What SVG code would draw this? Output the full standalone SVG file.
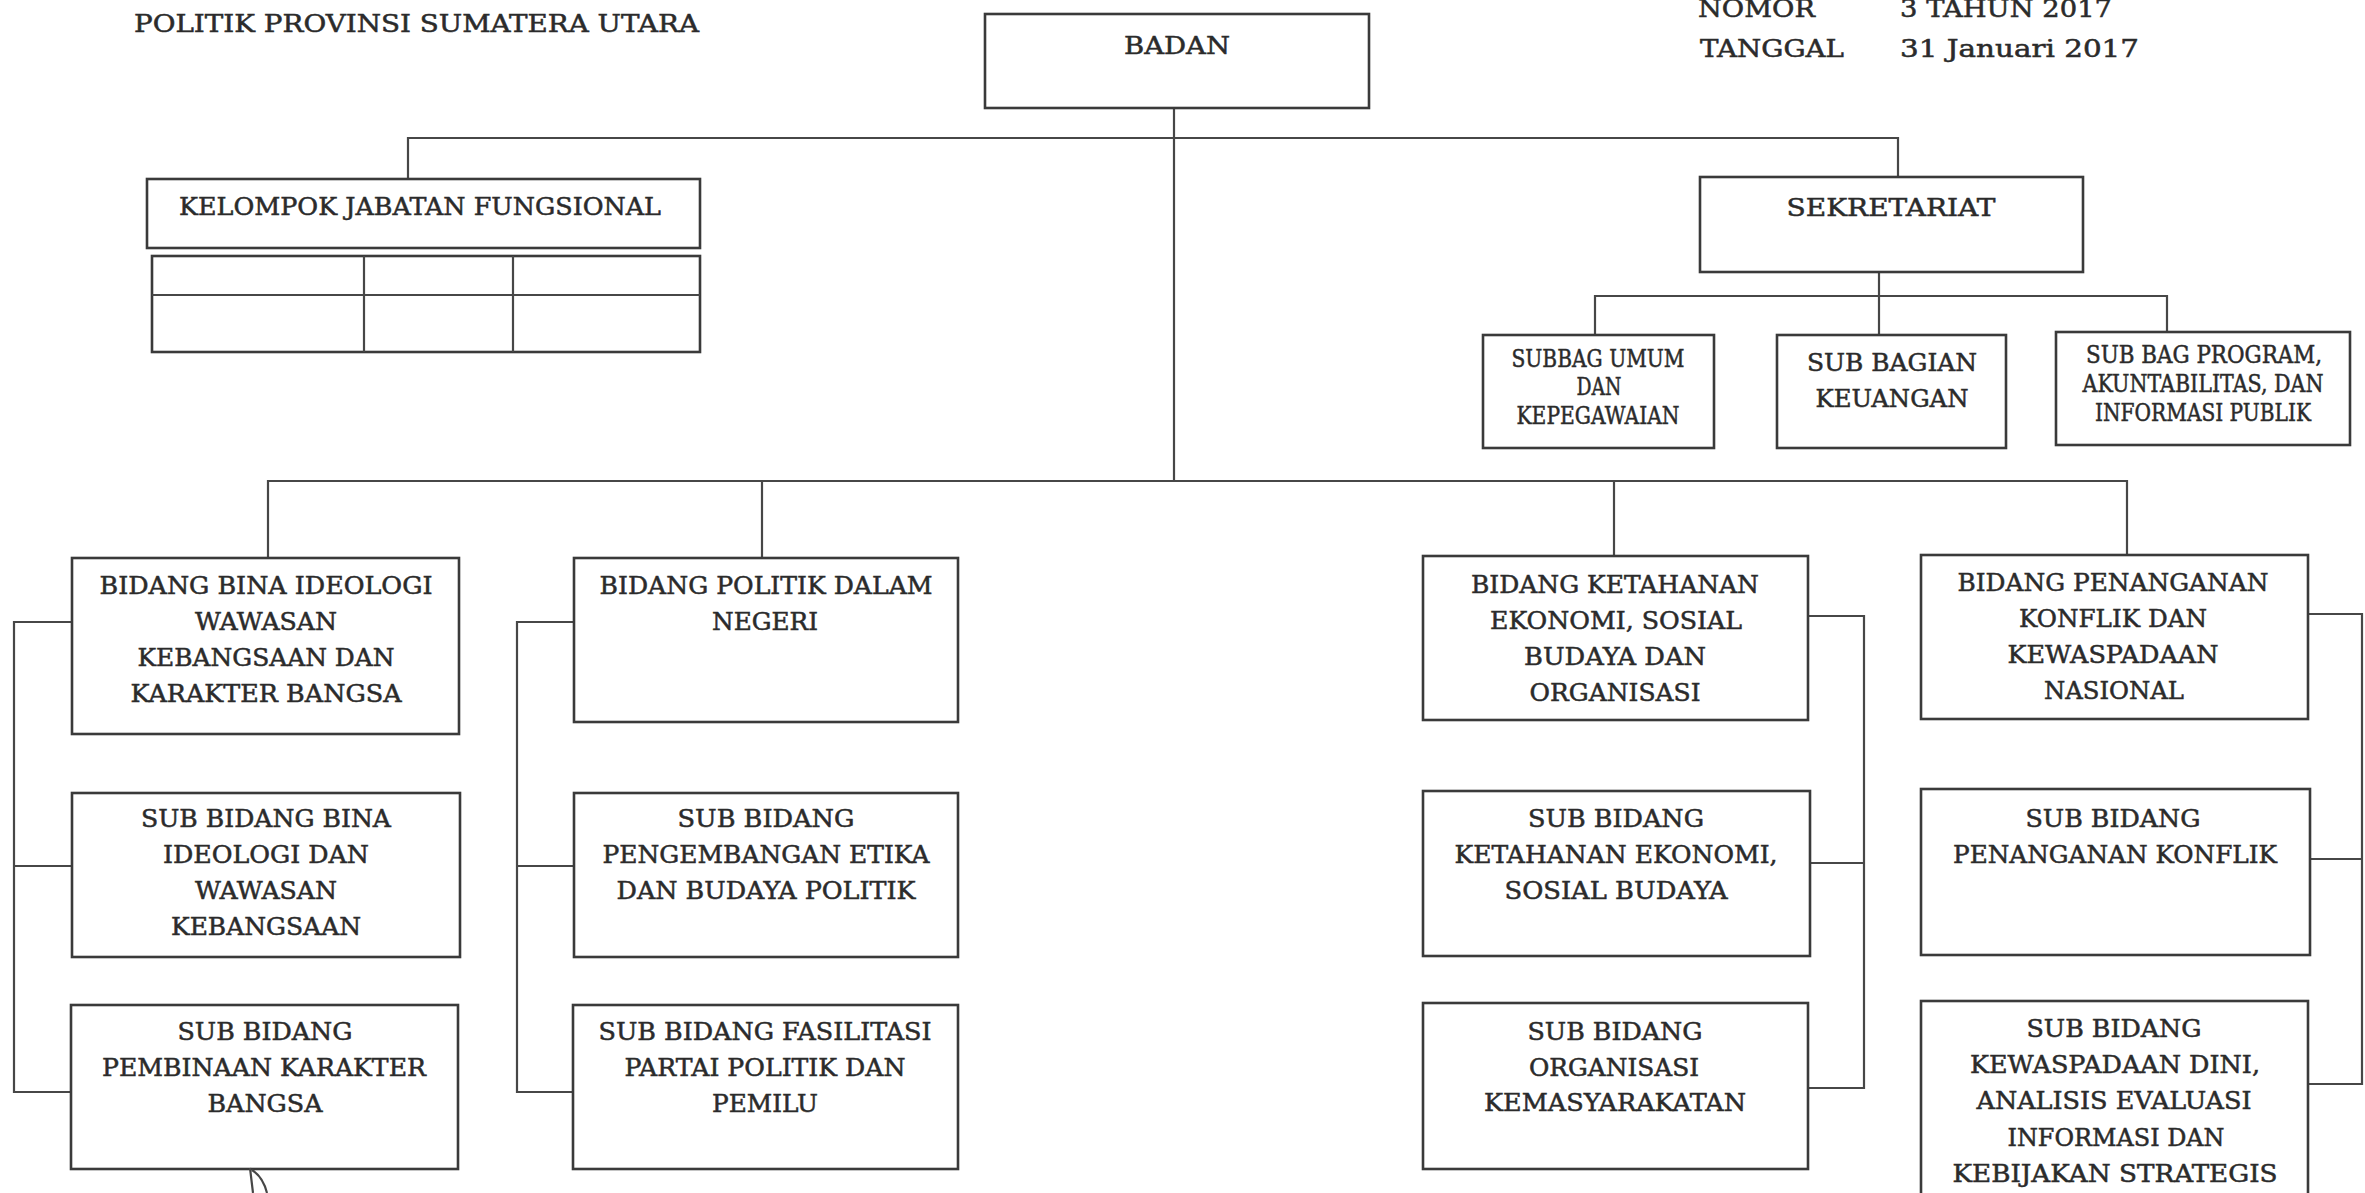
<svg xmlns="http://www.w3.org/2000/svg" width="2365" height="1193" viewBox="0 0 2365 1193">
<style>
.bg{fill:#ffffff}
.box{fill:#ffffff;stroke:#3a3a3a;stroke-width:2.6}
.ln{fill:none;stroke:#474747;stroke-width:2.2}
.t{font-family:"DejaVu Serif","Liberation Serif",serif;fill:#2b2b2b;stroke:#2b2b2b;stroke-width:0.5;text-anchor:middle;font-size:23.5px}
.s{text-anchor:start}
</style>
<rect class="bg" x="0" y="0" width="2365" height="1193"/>

<g id="header">
<text class="t s" x="134" y="32" font-size="30" textLength="565" lengthAdjust="spacingAndGlyphs">POLITIK PROVINSI SUMATERA UTARA</text>
<text class="t s" x="1698" y="17" font-size="29" textLength="117" lengthAdjust="spacingAndGlyphs">NOMOR</text>
<text class="t s" x="1900" y="17" font-size="29" textLength="212" lengthAdjust="spacingAndGlyphs">3 TAHUN 2017</text>
<text class="t s" x="1700" y="57" font-size="29" textLength="144" lengthAdjust="spacingAndGlyphs">TANGGAL</text>
<text class="t s" x="1900" y="57" font-size="29" textLength="239" lengthAdjust="spacingAndGlyphs">31 Januari 2017</text>
</g>

<g id="connectors">
<path class="ln" d="M1174,95 V481"/>
<path class="ln" d="M408,180 V138 H1898 V177"/>
<path class="ln" d="M1879,272 V335"/>
<path class="ln" d="M1595,335 V296 H2167 V332"/>
<path class="ln" d="M268,558 V481 H2127 V555"/>
<path class="ln" d="M762,481 V558"/>
<path class="ln" d="M1614,481 V556"/>
<path class="ln" d="M72,622 H14 V1092 H71"/>
<path class="ln" d="M14,866 H72"/>
<path class="ln" d="M574,622 H517 V1092 H573"/>
<path class="ln" d="M517,866 H574"/>
<path class="ln" d="M1808,616 H1864 V1088 H1808"/>
<path class="ln" d="M1810,863 H1864"/>
<path class="ln" d="M2308,614 H2362 V1084 H2308"/>
<path class="ln" d="M2310,859 H2362"/>
</g>

<g id="badan">
<rect class="box" x="985" y="14" width="384" height="94"/>
<text class="t" x="1177" y="54" font-size="29" textLength="106" lengthAdjust="spacingAndGlyphs">BADAN</text>
</g>

<g id="kelompok-jabatan-fungsional">
<rect class="box" x="147" y="179" width="553" height="69"/>
<text class="t" x="420" y="215" font-size="26" textLength="482" lengthAdjust="spacingAndGlyphs">KELOMPOK JABATAN FUNGSIONAL</text>
</g>

<g id="jabatan-fungsional-grid">
<rect class="box" x="152" y="256" width="548" height="96"/>
<path class="ln" d="M152,295 H700 M364,256 V352 M513,256 V352"/>
</g>

<g id="sekretariat">
<rect class="box" x="1700" y="177" width="383" height="95"/>
<text class="t" x="1891" y="216" font-size="27" textLength="209" lengthAdjust="spacingAndGlyphs">SEKRETARIAT</text>
</g>

<g id="subbag-umum">
<rect class="box" x="1483" y="335" width="231" height="113"/>
<text class="t" x="1598" y="367" font-size="19" textLength="173" lengthAdjust="spacingAndGlyphs">SUBBAG UMUM</text>
<text class="t" x="1599" y="395" font-size="19" textLength="45" lengthAdjust="spacingAndGlyphs">DAN</text>
<text class="t" x="1598" y="424" font-size="19" textLength="163" lengthAdjust="spacingAndGlyphs">KEPEGAWAIAN</text>
</g>

<g id="sub-bagian-keuangan">
<rect class="box" x="1777" y="335" width="229" height="113"/>
<text class="t" x="1892" y="371" font-size="24.5" textLength="170" lengthAdjust="spacingAndGlyphs">SUB BAGIAN</text>
<text class="t" x="1892" y="407" font-size="24.5" textLength="153" lengthAdjust="spacingAndGlyphs">KEUANGAN</text>
</g>

<g id="sub-bag-program">
<rect class="box" x="2056" y="332" width="294" height="113"/>
<text class="t" x="2204" y="363" font-size="19" textLength="236" lengthAdjust="spacingAndGlyphs">SUB BAG PROGRAM,</text>
<text class="t" x="2203" y="392" font-size="19" textLength="241" lengthAdjust="spacingAndGlyphs">AKUNTABILITAS, DAN</text>
<text class="t" x="2203" y="421" font-size="19" textLength="216" lengthAdjust="spacingAndGlyphs">INFORMASI PUBLIK</text>
</g>

<g id="bidang-bina-ideologi">
<rect class="box" x="72" y="558" width="387" height="176"/>
<text class="t" x="266" y="594" textLength="333" lengthAdjust="spacingAndGlyphs">BIDANG BINA IDEOLOGI</text>
<text class="t" x="266" y="630" textLength="142" lengthAdjust="spacingAndGlyphs">WAWASAN</text>
<text class="t" x="266" y="666" textLength="257" lengthAdjust="spacingAndGlyphs">KEBANGSAAN DAN</text>
<text class="t" x="266" y="702" textLength="271" lengthAdjust="spacingAndGlyphs">KARAKTER BANGSA</text>
</g>

<g id="sub-bidang-bina-ideologi">
<rect class="box" x="72" y="793" width="388" height="164"/>
<text class="t" x="266" y="827" textLength="250" lengthAdjust="spacingAndGlyphs">SUB BIDANG BINA</text>
<text class="t" x="266" y="863" textLength="206" lengthAdjust="spacingAndGlyphs">IDEOLOGI DAN</text>
<text class="t" x="266" y="899" textLength="142" lengthAdjust="spacingAndGlyphs">WAWASAN</text>
<text class="t" x="266" y="935" textLength="190" lengthAdjust="spacingAndGlyphs">KEBANGSAAN</text>
</g>

<g id="sub-bidang-pembinaan-karakter">
<rect class="box" x="71" y="1005" width="387" height="164"/>
<text class="t" x="265" y="1040" textLength="175" lengthAdjust="spacingAndGlyphs">SUB BIDANG</text>
<text class="t" x="264" y="1076" textLength="324" lengthAdjust="spacingAndGlyphs">PEMBINAAN KARAKTER</text>
<text class="t" x="265" y="1112" textLength="115" lengthAdjust="spacingAndGlyphs">BANGSA</text>
</g>

<g id="bidang-politik-dalam-negeri">
<rect class="box" x="574" y="558" width="384" height="164"/>
<text class="t" x="766" y="594" textLength="333" lengthAdjust="spacingAndGlyphs">BIDANG POLITIK DALAM</text>
<text class="t" x="765" y="630" textLength="106" lengthAdjust="spacingAndGlyphs">NEGERI</text>
</g>

<g id="sub-bidang-etika-budaya-politik">
<rect class="box" x="574" y="793" width="384" height="164"/>
<text class="t" x="766" y="827" textLength="177" lengthAdjust="spacingAndGlyphs">SUB BIDANG</text>
<text class="t" x="766" y="863" textLength="327" lengthAdjust="spacingAndGlyphs">PENGEMBANGAN ETIKA</text>
<text class="t" x="766" y="899" textLength="299" lengthAdjust="spacingAndGlyphs">DAN BUDAYA POLITIK</text>
</g>

<g id="sub-bidang-fasilitasi-partai">
<rect class="box" x="573" y="1005" width="385" height="164"/>
<text class="t" x="765" y="1040" textLength="333" lengthAdjust="spacingAndGlyphs">SUB BIDANG FASILITASI</text>
<text class="t" x="765" y="1076" textLength="281" lengthAdjust="spacingAndGlyphs">PARTAI POLITIK DAN</text>
<text class="t" x="765" y="1112" textLength="106" lengthAdjust="spacingAndGlyphs">PEMILU</text>
</g>

<g id="bidang-ketahanan">
<rect class="box" x="1423" y="556" width="385" height="164"/>
<text class="t" x="1615" y="593" textLength="288" lengthAdjust="spacingAndGlyphs">BIDANG KETAHANAN</text>
<text class="t" x="1616" y="629" textLength="252" lengthAdjust="spacingAndGlyphs">EKONOMI, SOSIAL</text>
<text class="t" x="1615" y="665" textLength="182" lengthAdjust="spacingAndGlyphs">BUDAYA DAN</text>
<text class="t" x="1615" y="701" textLength="171" lengthAdjust="spacingAndGlyphs">ORGANISASI</text>
</g>

<g id="sub-bidang-ketahanan-ekonomi">
<rect class="box" x="1423" y="791" width="387" height="165"/>
<text class="t" x="1616" y="827" textLength="176" lengthAdjust="spacingAndGlyphs">SUB BIDANG</text>
<text class="t" x="1616" y="863" textLength="323" lengthAdjust="spacingAndGlyphs">KETAHANAN EKONOMI,</text>
<text class="t" x="1616" y="899" textLength="223" lengthAdjust="spacingAndGlyphs">SOSIAL BUDAYA</text>
</g>

<g id="sub-bidang-organisasi">
<rect class="box" x="1423" y="1003" width="385" height="166"/>
<text class="t" x="1615" y="1040" textLength="175" lengthAdjust="spacingAndGlyphs">SUB BIDANG</text>
<text class="t" x="1614" y="1076" textLength="170" lengthAdjust="spacingAndGlyphs">ORGANISASI</text>
<text class="t" x="1615" y="1111" textLength="262" lengthAdjust="spacingAndGlyphs">KEMASYARAKATAN</text>
</g>

<g id="bidang-penanganan-konflik">
<rect class="box" x="1921" y="555" width="387" height="164"/>
<text class="t" x="2113" y="591" textLength="311" lengthAdjust="spacingAndGlyphs">BIDANG PENANGANAN</text>
<text class="t" x="2113" y="627" textLength="188" lengthAdjust="spacingAndGlyphs">KONFLIK DAN</text>
<text class="t" x="2113" y="663" textLength="211" lengthAdjust="spacingAndGlyphs">KEWASPADAAN</text>
<text class="t" x="2114" y="699" textLength="140" lengthAdjust="spacingAndGlyphs">NASIONAL</text>
</g>

<g id="sub-bidang-penanganan-konflik">
<rect class="box" x="1921" y="789" width="389" height="166"/>
<text class="t" x="2113" y="827" textLength="175" lengthAdjust="spacingAndGlyphs">SUB BIDANG</text>
<text class="t" x="2115" y="863" textLength="324" lengthAdjust="spacingAndGlyphs">PENANGANAN KONFLIK</text>
</g>

<g id="sub-bidang-kewaspadaan-dini">
<rect class="box" x="1921" y="1001" width="387" height="205"/>
<text class="t" x="2114" y="1037" textLength="175" lengthAdjust="spacingAndGlyphs">SUB BIDANG</text>
<text class="t" x="2115" y="1073" textLength="290" lengthAdjust="spacingAndGlyphs">KEWASPADAAN DINI,</text>
<text class="t" x="2114" y="1109" textLength="275" lengthAdjust="spacingAndGlyphs">ANALISIS EVALUASI</text>
<text class="t" x="2116" y="1146" textLength="217" lengthAdjust="spacingAndGlyphs">INFORMASI DAN</text>
<text class="t" x="2115" y="1182" textLength="325" lengthAdjust="spacingAndGlyphs">KEBIJAKAN STRATEGIS</text>
</g>

<g id="pen-mark">
<path class="ln" d="M250,1168 L253,1193 M252,1170 Q263,1177 267,1193" stroke-width="1.8"/>
</g>
</svg>
